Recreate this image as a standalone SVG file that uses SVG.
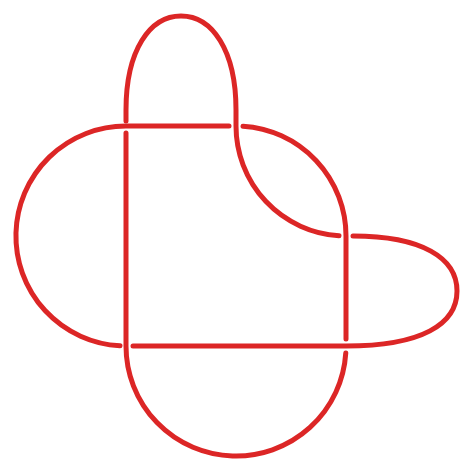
<svg xmlns="http://www.w3.org/2000/svg" width="472" height="472" viewBox="0 0 472 472">
<style>
.k{fill:none;stroke:#dc2626;stroke-width:5;stroke-linecap:round;stroke-linejoin:round}
</style>
<rect width="472" height="472" fill="#ffffff"/>
<g id="connectors">
<path id="s1" class="k" d="M126,121 L126,110 C126,50 150,16 181,16 C212,16 236,50 236,110 L236,126 A110,110 0 0 0 339,235.8"/>
<path id="s2" class="k" d="M353,236 C422,236 457,258 457,291 C457,324 422,346 346,346 L133,346"/>
<path id="s3" class="k" d="M120,345.84 A110,110 0 0 1 126,126 L229,126"/>
<path id="s4" class="k" d="M243,126.2 A110,110 0 0 1 346,236 L346,339"/>
<path id="s5" class="k" d="M345.78,353 A110,110 0 0 1 126,346 L126,133"/>
</g>
</svg>
